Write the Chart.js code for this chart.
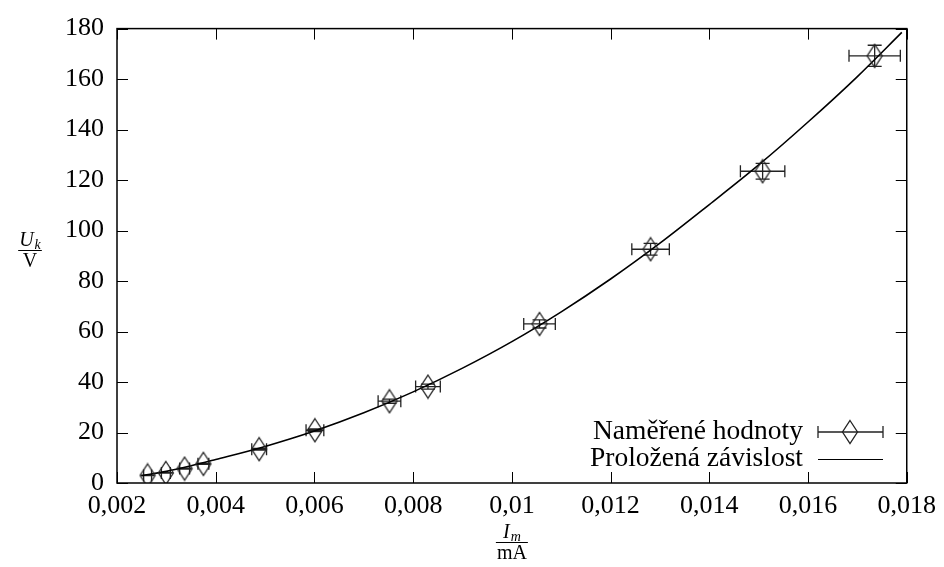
<!DOCTYPE html>
<html lang="cs">
<head>
<meta charset="UTF-8">
<title>U_k vs I_m</title>
<script src="https://cdn.jsdelivr.net/npm/chart.js"></script>
<style>
  html, body { margin: 0; padding: 0; background: #fff; }
  #wrap { width: 944px; height: 567px; }
</style>
</head>
<body>
<div id="wrap"><canvas id="chart" width="944" height="567"></canvas></div>
<script>
// measured values (I_m in mA, U_k in V)
const measI = [0.00262, 0.00299, 0.00337, 0.00375, 0.00488, 0.00601, 0.00752, 0.0083, 0.01056, 0.01281, 0.01508, 0.01735];
const measU = [3.0, 4.0, 5.7, 7.6, 13.4, 20.9, 32.4, 38.2, 63.0, 92.6, 123.5, 169.2];
const errI  = [0.00008, 0.00009, 0.0001, 0.00011, 0.00015, 0.00018, 0.00023, 0.00025, 0.00032, 0.00038, 0.00045, 0.00052];
const errU  = [0.1, 0.1, 0.15, 0.2, 0.35, 0.5, 0.8, 1.0, 1.6, 2.3, 3.1, 4.2];

// fitted curve
const fitI = [0.0025, 0.003, 0.0035, 0.004, 0.005, 0.006, 0.007, 0.008, 0.009, 0.010, 0.011, 0.012, 0.013, 0.014, 0.015, 0.016, 0.017, 0.0179];
const fitU = [2.9, 4.6, 6.8, 9.3, 14.5, 20.6, 27.8, 36.1, 45.5, 56.0, 67.8, 80.8, 95.0, 110.3, 126.0, 143.0, 161.0, 178.5];

const xTicks = [0.002, 0.004, 0.006, 0.008, 0.01, 0.012, 0.014, 0.016, 0.018];
const yTicks = [0, 20, 40, 60, 80, 100, 120, 140, 160, 180];

const labelMeas = 'Naměřené hodnoty';
const labelFit = 'Proložená závislost';

const FONT = '"Liberation Serif", "DejaVu Serif", serif';
const MARK = '#222';

function diamond() {
  const c = document.createElement('canvas');
  c.width = 18; c.height = 26;
  const g = c.getContext('2d');
  g.strokeStyle = MARK; g.lineWidth = 1.3;
  g.beginPath();
  g.moveTo(9, 1.5); g.lineTo(16.5, 13); g.lineTo(9, 24.5); g.lineTo(1.5, 13); g.closePath();
  g.stroke();
  return c;
}
const diamondImg = diamond();

function fmt(v) {
  return Number(v.toFixed(4)).toString().replace('.', ',');
}

function drawErrBar(ctx, x, y, x1, x2, y1, y2) {
  ctx.beginPath();
  ctx.moveTo(x1, y); ctx.lineTo(x2, y);
  ctx.moveTo(x1, y - 6); ctx.lineTo(x1, y + 6);
  ctx.moveTo(x2, y - 6); ctx.lineTo(x2, y + 6);
  ctx.moveTo(x, y1); ctx.lineTo(x, y2);
  ctx.moveTo(x - 7, y1); ctx.lineTo(x + 7, y1);
  ctx.moveTo(x - 7, y2); ctx.lineTo(x + 7, y2);
  ctx.stroke();
}

const errorBars = {
  id: 'errorBars',
  beforeDatasetsDraw(chart) {
    const { ctx, scales: { x, y } } = chart;
    ctx.save();
    ctx.strokeStyle = MARK; ctx.lineWidth = 1.3;
    measI.forEach((v, i) => {
      drawErrBar(ctx,
        x.getPixelForValue(v), y.getPixelForValue(measU[i]),
        x.getPixelForValue(v - errI[i]), x.getPixelForValue(v + errI[i]),
        y.getPixelForValue(measU[i] + errU[i]), y.getPixelForValue(measU[i] - errU[i]));
    });
    ctx.restore();
  }
};

const frame = {
  id: 'frame',
  afterDraw(chart) {
    const { ctx, chartArea: a, scales: { x, y } } = chart;
    ctx.save();
    ctx.strokeStyle = '#000'; ctx.lineWidth = 1.5;
    ctx.strokeRect(a.left, a.top, a.right - a.left, a.bottom - a.top);
    ctx.lineWidth = 1;
    const t = 11;
    ctx.beginPath();
    xTicks.forEach(v => {
      const px = Math.round(x.getPixelForValue(v)) + 0.5;
      ctx.moveTo(px, a.bottom); ctx.lineTo(px, a.bottom - t);
      ctx.moveTo(px, a.top); ctx.lineTo(px, a.top + t);
    });
    yTicks.forEach(v => {
      const py = Math.round(y.getPixelForValue(v)) + 0.5;
      ctx.moveTo(a.left, py); ctx.lineTo(a.left + t, py);
      ctx.moveTo(a.right, py); ctx.lineTo(a.right - t, py);
    });
    ctx.stroke();

    // legend
    ctx.fillStyle = '#000';
    ctx.font = '27.5px ' + FONT;
    ctx.textAlign = 'right'; ctx.textBaseline = 'middle';
    const lx = 803, ly1 = 432, ly2 = 459;
    ctx.fillText(labelMeas, lx, ly1);
    ctx.fillText(labelFit, lx, ly2);
    ctx.strokeStyle = MARK; ctx.lineWidth = 1.3;
    drawErrBar(ctx, 850, ly1, 818, 883, ly1, ly1);
    ctx.drawImage(diamondImg, 850 - 9, ly1 - 13);
    ctx.strokeStyle = '#000'; ctx.lineWidth = 1.2;
    ctx.beginPath(); ctx.moveTo(818, ly2 + 0.5); ctx.lineTo(883, ly2 + 0.5); ctx.stroke();

    // axis titles as fractions
    fraction(ctx, 30, 250, 'U', 'k', 'V');
    fraction(ctx, (a.left + a.right) / 2, 542, 'I', 'm', 'mA');
    ctx.restore();
  }
};

function fraction(ctx, cx, cy, sym, sub, unit) {
  ctx.fillStyle = '#000';
  ctx.textBaseline = 'alphabetic';
  ctx.font = 'italic 20px ' + FONT;
  const w1 = ctx.measureText(sym).width;
  ctx.font = 'italic 14px ' + FONT;
  const w2 = ctx.measureText(sub).width;
  const nw = w1 + w2 + 1;
  ctx.textAlign = 'left';
  ctx.font = 'italic 20px ' + FONT;
  ctx.fillText(sym, cx - nw / 2, cy - 4);
  ctx.font = 'italic 14px ' + FONT;
  ctx.fillText(sub, cx - nw / 2 + w1 + 1, cy - 1);
  ctx.font = '20px ' + FONT;
  const dw = ctx.measureText(unit).width;
  const bw = Math.max(nw, dw) + 2;
  ctx.fillRect(cx - bw / 2, cy, bw, 1);
  ctx.textAlign = 'center';
  ctx.fillText(unit, cx, cy + 17);
}

new Chart(document.getElementById('chart'), {
  type: 'scatter',
  data: {
    datasets: [
      {
        label: labelMeas,
        data: measI.map((v, i) => ({ x: v, y: measU[i] })),
        pointStyle: diamondImg,
        pointRadius: 9,
        showLine: false
      },
      {
        label: labelFit,
        data: fitI.map((v, i) => ({ x: v, y: fitU[i] })),
        showLine: true,
        borderColor: '#000',
        borderWidth: 1.6,
        pointRadius: 0,
        cubicInterpolationMode: 'monotone',
        fill: false
      }
    ]
  },
  options: {
    responsive: false,
    animation: false,
    events: [],
    layout: { padding: { top: 17, right: 37, left: 0, bottom: 0 } },
    plugins: { legend: { display: false }, tooltip: { enabled: false } },
    scales: {
      x: {
        type: 'linear', min: 0.002, max: 0.018,
        afterBuildTicks: s => { s.ticks = xTicks.map(v => ({ value: v })); },
        afterFit: s => { s.height = 84; },
        grid: { display: false, drawTicks: false },
        border: { display: false },
        ticks: { color: '#000', font: { family: FONT, size: 26 }, padding: 8, maxRotation: 0, callback: v => fmt(v) }
      },
      y: {
        type: 'linear', min: 0, max: 180,
        afterBuildTicks: s => { s.ticks = yTicks.map(v => ({ value: v })); },
        afterFit: s => { s.width = 117; },
        grid: { display: false, drawTicks: false },
        border: { display: false },
        ticks: { color: '#000', font: { family: FONT, size: 26 }, padding: 13, callback: v => String(v) }
      }
    }
  },
  plugins: [errorBars, frame]
});
</script>
</body>
</html>
